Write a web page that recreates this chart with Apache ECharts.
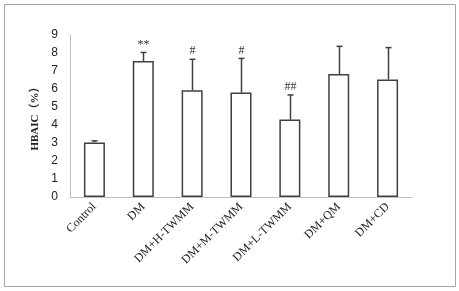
<!DOCTYPE html>
<html>
<head>
<meta charset="utf-8">
<script src="https://cdn.jsdelivr.net/npm/echarts@6/dist/echarts.min.js"></script>
<style>
  body { margin: 0; background: #fff; }
  #chart { width: 459px; height: 291px; }
</style>
</head>
<body>
<div id="chart"></div>
<script>
var groups = ['Control', 'DM', 'DM+H-TWMM', 'DM+M-TWMM', 'DM+L-TWMM', 'DM+QM', 'DM+CD'];
var means = [3.03, 7.55, 5.93, 5.8, 4.3, 6.83, 6.53];
var upper = [3.12, 8.03, 7.65, 7.7, 5.67, 8.37, 8.3];
var marks = ['', '**', '#', '#', '##', '', ''];

var chart = echarts.init(document.getElementById('chart'));

var option = {
    animation: false,
    graphic: [{
        type: 'rect',
        shape: {x: 4.5, y: 4.5, width: 451, height: 282},
        style: {fill: 'none', stroke: '#a6a6a6', lineWidth: 1}
    }],
    grid: {left: 70, right: 47, top: 35, bottom: 94},
    xAxis: {
        type: 'category',
        data: groups,
        axisLine: {lineStyle: {color: '#bfbfbf', width: 1}},
        axisTick: {show: false},
        axisLabel: {
            interval: 0,
            rotate: 45,
            fontFamily: 'Liberation Serif',
            fontSize: 12,
            color: '#222',
            margin: 8
        }
    },
    yAxis: {
        type: 'value',
        min: 0,
        max: 9,
        interval: 1,
        name: 'HBAIC\uff08%\uff09',
        nameLocation: 'middle',
        nameGap: 17,
        nameRotate: 90,
        nameTextStyle: {
            fontFamily: '"Liberation Serif", "Noto Sans CJK SC"',
            fontWeight: 'bold',
            fontSize: 11,
            color: '#222'
        },
        axisLine: {show: true, lineStyle: {color: '#bfbfbf', width: 1}},
        axisTick: {show: false},
        splitLine: {show: false},
        axisLabel: {
            fontFamily: 'Liberation Sans',
            fontSize: 12,
            color: '#222',
            margin: 12
        }
    },
    series: [
        {
            type: 'bar',
            data: means,
            barWidth: '43%',
            itemStyle: {color: '#fff', borderColor: '#404040', borderWidth: 1.5}
        },
        {
            type: 'custom',
            data: groups.map(function (g, i) { return [i, means[i], upper[i], marks[i]]; }),
            renderItem: function (params, api) {
                var base = api.coord([api.value(0), api.value(1)]);
                var top = api.coord([api.value(0), api.value(2)]);
                var x = Math.round(base[0]) + 0.5;
                var children = [
                    {type: 'line', shape: {x1: x, y1: base[1], x2: x, y2: top[1]},
                        style: {stroke: '#404040', lineWidth: 1.5}},
                    {type: 'line', shape: {x1: x - 3, y1: top[1], x2: x + 3, y2: top[1]},
                        style: {stroke: '#404040', lineWidth: 1.5}}
                ];
                var m = api.value(3);
                if (m) {
                    children.push({
                        type: 'text',
                        style: {
                            text: m, x: x, y: top[1] - 2,
                            align: 'center', verticalAlign: 'bottom',
                            font: '12px "Liberation Serif"', fill: '#333'
                        }
                    });
                }
                return {type: 'group', children: children};
            },
            z: 5
        }
    ]
};

chart.setOption(option);
</script>
</body>
</html>
